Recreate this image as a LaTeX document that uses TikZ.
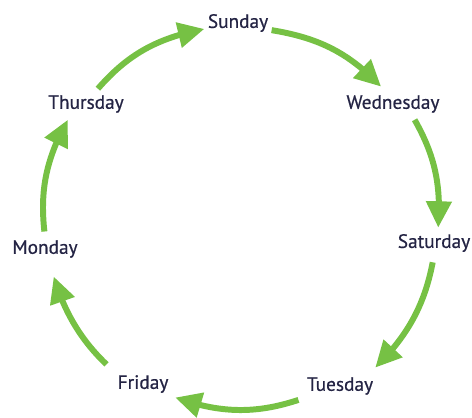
\documentclass[tikz,border=0pt]{standalone}
\usepackage{fontspec}
\setmainfont{PT Sans}[FakeBold=0.6]
\usetikzlibrary{arrows.meta,bending}
\definecolor{daygreen}{RGB}{118,193,68}
\definecolor{dayink}{RGB}{36,36,68}

\begin{document}
\begin{tikzpicture}[x=0.02cm, y=-0.02cm, every node/.style={inner sep=2pt, outer sep=0pt, text=dayink, font=\fontsize{11}{13}\selectfont}, cyc/.style={draw=daygreen, line width=3.4pt, -{Triangle[length=15pt, width=14pt, flex]}}]
    \useasboundingbox (0,0) rectangle (472,417);
    \node (sun) at (238,23) {Sunday};
    \node (wed) at (393,104) {Wednesday};
    \node (sat) at (434,243) {Saturday};
    \node (tue) at (340,386) {Tuesday};
    \node (fri) at (143,384) {Friday};
    \node (mon) at (45,249) {Monday};
    \node (thu) at (86,104) {Thursday};
        \draw[cyc, shorten <=2.3pt] (thu.53) to[bend left=19] (sun.190);
        \draw[cyc, shorten >=4pt] (sun.-12) to[bend left=19] (wed.120);
        \draw[cyc, shorten <=2.3pt, shorten >=1.7pt] (wed.-32) to[bend left=17] (sat.72);
        \draw[cyc, shorten <=4pt, shorten >=5pt] (sat.south) to[bend left=18] (tue.23);
        \draw[cyc, shorten <=3pt, shorten >=2pt] (tue.south west) to[bend left=19] (fri.south east);
        \draw[cyc, shorten <=6pt, shorten >=9pt] (fri.north west) to[bend left=16] (mon.-70);
        \draw[cyc, shorten <=3pt, shorten >=2.3pt] (mon.north) to[bend left=18] (thu.217);
\end{tikzpicture}
\end{document}
